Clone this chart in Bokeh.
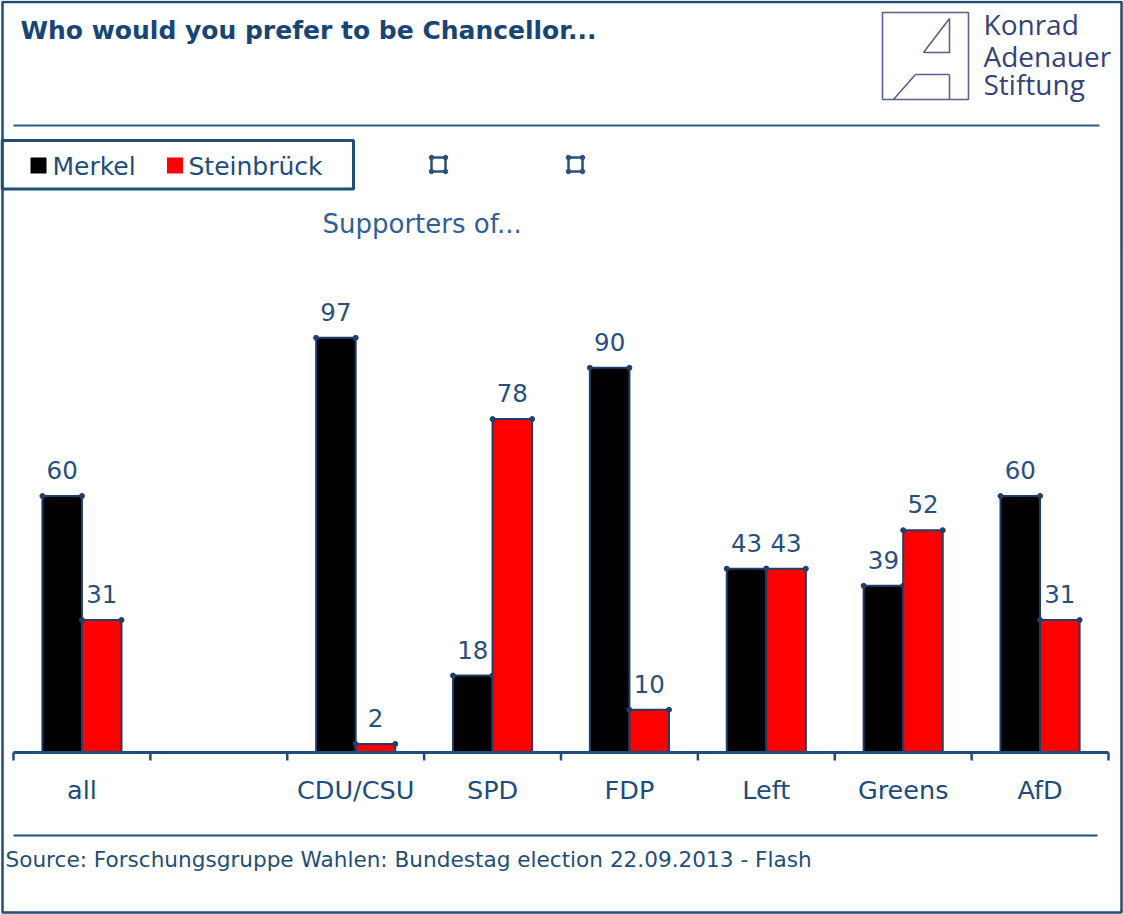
import numpy as np
from bokeh.plotting import figure
from bokeh.models import ColumnDataSource, Range1d
from bokeh.core.properties import value
from bokeh.embed import file_html
from bokeh.resources import INLINE

# ---------------- data ----------------
categories = ["all", "", "CDU/CSU", "SPD", "FDP", "Left", "Greens", "AfD"]
merkel = [60, None, 97, 18, 90, 43, 39, 60]
steinbrueck = [31, None, 2, 78, 10, 43, 52, 31]
series_names = ["Merkel", "Steinbrück"]
series_colors = ["#000000", "#ff0000"]
title_text = "Who would you prefer to be Chancellor..."
subtitle_text = "Supporters of..."
source_text = "Source: Forschungsgruppe Wahlen: Bundestag election 22.09.2013 - Flash"
logo_lines = ["Konrad", "Adenauer", "Stiftung"]

# ---------------- layout constants ----------------
W, H = 1123, 914
AXIS_Y = 752            # baseline of bars, px from top
LEFT, RIGHT = 13, 1108  # extent of category axis in px
N = len(categories)
UNIT = (RIGHT - LEFT) / N
PX_PER_VAL = 4.275
BAR_W = 0.289
TXT_SHIFT = 9           # glyph text baseline correction (px)

NAVY = "#1f4e79"
TEXT = "#1d4c7d"
LABEL = "#28507f"
BAR_LINE = "#1f3f6a"
FONT = "DejaVu Sans"

# frame covers the whole canvas; value axis maps 0 to the baseline
p = figure(width=W, height=H, output_backend="svg", toolbar_location=None,
           x_range=Range1d(-LEFT / UNIT, N + (W - RIGHT) / UNIT),
           y_range=Range1d(-(H - AXIS_Y) / PX_PER_VAL, AXIS_Y / PX_PER_VAL),
           x_axis_location=None, y_axis_location=None,
           min_border_left=0, min_border_right=0, min_border_top=0,
           min_border_bottom=0)
p.grid.visible = False
p.outline_line_color = None
p.background_fill_color = "white"
p.border_fill_color = "white"
# pixel-like range for page decorations (y grows downward)
p.extra_x_ranges = {"px": Range1d(0, W)}
p.extra_y_ranges = {"px": Range1d(H, 0)}

# ---------------- outer frame ----------------
p.quad(left=[2], right=[1121], top=[1.5], bottom=[912], x_range_name="px",
       y_range_name="px", fill_color=None, line_color=NAVY, line_width=2.5)

# ---------------- bars ----------------
rows = [i for i, (m, s) in enumerate(zip(merkel, steinbrueck)) if m is not None]
xc = np.array(rows, dtype=float) + 0.5
for k, (vals, color) in enumerate(zip([merkel, steinbrueck], series_colors)):
    xs = xc + (k - 0.5) * BAR_W
    tops = [vals[i] for i in rows]
    src = ColumnDataSource(dict(x=xs, top=tops, label=[str(v) for v in tops]))
    p.vbar(x="x", top="top", bottom=0, width=BAR_W, source=src,
           fill_color=color, line_color=BAR_LINE, line_width=2)
    p.scatter(x=np.concatenate([xs - BAR_W / 2, xs + BAR_W / 2]),
              y=np.concatenate([tops, tops]), marker="circle", size=5,
              color=BAR_LINE)
    p.text(x="x", y="top", text="label", source=src, text_align="center",
           text_baseline="alphabetic", y_offset=-17 - TXT_SHIFT,
           text_font=value(FONT), text_font_size=value("24.5px"),
           text_color=LABEL)

# ---------------- category axis (drawn on the category scale) ----------------
bounds = np.arange(N + 1, dtype=float)
centers = np.arange(N, dtype=float) + 0.5
p.segment(x0=[0], y0=[0], x1=[N], y1=[0], line_color=NAVY, line_width=3)
p.segment(x0=bounds, y0=[AXIS_Y] * (N + 1), x1=bounds, y1=[AXIS_Y + 8] * (N + 1),
          y_range_name="px", line_color=NAVY, line_width=2.5)
p.text(x=centers, y=[798 - TXT_SHIFT] * N, text=categories, y_range_name="px",
       text_align="center", text_baseline="alphabetic",
       text_font=value(FONT), text_font_size=value("25.5px"),
       text_color=TEXT)

# ---------------- title ----------------
p.text(x=[20], y=[39 - TXT_SHIFT], text=[title_text], x_range_name="px",
       y_range_name="px", text_font=value(FONT), text_font_style="bold",
       text_font_size=value("25px"), text_color="#174676",
       text_baseline="alphabetic")

# ---------------- logo ----------------
LOGO = "#55628c"
p.quad(left=[882], right=[968], top=[12], bottom=[99], x_range_name="px",
       y_range_name="px", fill_color=None, line_color=LOGO, line_width=1.6)
p.multi_line(xs=[[923, 949, 949, 923], [915, 949], [915, 893], [949, 949]],
             ys=[[52, 18, 52, 52], [74, 74], [74, 99], [74, 99]],
             x_range_name="px", y_range_name="px",
             line_color=LOGO, line_width=1.6)
p.text(x=[983] * 3, y=[33 - 10, 65 - 10, 93 - 10], text=logo_lines,
       x_range_name="px", y_range_name="px", text_font=value("Open Sans"),
       text_font_size=value("28px"), text_color="#34427a",
       text_baseline="alphabetic")

# ---------------- separators ----------------
p.segment(x0=[13, 13], y0=[125, 835], x1=[1099, 1097], y1=[125, 835],
          x_range_name="px", y_range_name="px",
          line_color=["#2f5a86", NAVY], line_width=2)

# ---------------- legend ----------------
p.quad(left=[1.5], right=[353], top=[140], bottom=[188.5], x_range_name="px",
       y_range_name="px", fill_color=None, line_color=NAVY, line_width=3)
p.rect(x=[38, 174.5], y=[165, 165], width=16, height=16, x_range_name="px",
       y_range_name="px", fill_color=series_colors, line_color=None)
p.text(x=[52, 188], y=[175 - TXT_SHIFT] * 2, text=series_names,
       x_range_name="px", y_range_name="px", text_font=value(FONT),
       text_font_size=value("25px"), text_color=TEXT,
       text_baseline="alphabetic")
# empty legend entries
SYM = "#2b4f7e"
sym_x = [438, 575]
sym_y = [164, 164]
p.scatter(x=sym_x, y=sym_y, marker="square", size=14,
          x_range_name="px", y_range_name="px", fill_color=None,
          line_color=SYM, line_width=2.5)
corner = 7
p.scatter(x=[x + sx * corner for x in sym_x for sx in (-1, 1, -1, 1)],
          y=[y + sy * corner for y in sym_y for sy in (-1, -1, 1, 1)],
          marker="circle", size=4.5, x_range_name="px", y_range_name="px",
          color=SYM)

# ---------------- subtitle ----------------
p.text(x=[322], y=[232 - TXT_SHIFT], text=[subtitle_text], x_range_name="px",
       y_range_name="px", text_font=value(FONT), text_font_size=value("26px"),
       text_color="#2f5f98", text_baseline="alphabetic")

# ---------------- source ----------------
p.text(x=[5], y=[867 - 8], text=[source_text], x_range_name="px",
       y_range_name="px", text_font=value(FONT), text_font_size=value("21.6px"),
       text_color=NAVY, text_baseline="alphabetic")

open("out.html", "w").write(file_html(p, INLINE))
